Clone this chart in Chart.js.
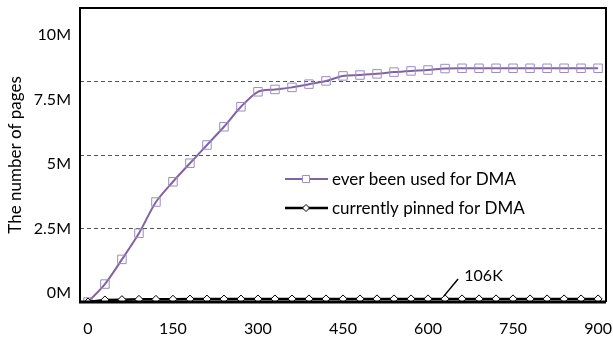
<!DOCTYPE html>
<html>
<head>
<meta charset="utf-8">
<script src="https://cdn.jsdelivr.net/npm/chart.js@4.4.0/dist/chart.umd.min.js"></script>
<style>
  html, body { margin: 0; padding: 0; background: #fff; }
  canvas { display: block; }
</style>
</head>
<body>
<canvas id="dmaChart" width="613" height="337"></canvas>
<script>
// seconds (x) sampled every 30
const xValues = [0, 30, 60, 90, 120, 150, 180, 210, 240, 270, 300, 330, 360, 390, 420, 450,
                 480, 510, 540, 570, 600, 630, 660, 690, 720, 750, 780, 810, 840, 870, 900];

// pages, in millions
const everUsed = [0, 0.61, 1.45, 2.34, 3.40, 4.09, 4.72, 5.34, 5.96, 6.64, 7.15, 7.23, 7.30, 7.41,
                  7.52, 7.69, 7.72, 7.76, 7.82, 7.86, 7.89, 7.94, 7.95, 7.95, 7.95, 7.95, 7.95,
                  7.95, 7.95, 7.95, 7.95];
const pinned = [0, 0.07, 0.08, 0.09, 0.09, 0.095, 0.1, 0.1, 0.1, 0.1, 0.104, 0.104, 0.104, 0.105,
                0.105, 0.105, 0.105, 0.106, 0.106, 0.106, 0.106, 0.106, 0.106, 0.106, 0.106, 0.106,
                0.106, 0.106, 0.106, 0.106, 0.106];

const seriesLabels = ["ever been used for DMA", "currently pinned for DMA"];
const xTicks = [0, 150, 300, 450, 600, 750, 900];
const yGridTicks = [2.5, 5, 7.5];
const yLabelTicks = [0, 2.5, 5, 7.5, 10];
const yLabelText = ["0M", "2.5M", "5M", "7.5M", "10M"];
const yTitle = "The number of pages";

// callout for the pinned series
const calloutText = "106K";
const calloutFrom = { x: 628, y: 0.2 };
const calloutTo = { x: 653, y: 0.78 };
const calloutAt = { x: 664, y: 0.9 };

const FONT = "Lato, 'Open Sans', sans-serif";
const PURPLE = "#8064A2";
const PURPLE_PT = "#9D8BC6";

function noPad(axis) {
    axis.paddingTop = 0;
    axis.paddingBottom = 0;
    axis.paddingLeft = 0;
    axis.paddingRight = 0;
}

const framePlugin = {
    id: 'plotFrame',
    afterDraw(chart) {
        const c = chart.ctx;
        const a = chart.chartArea;
        const sx = chart.scales.x, sy = chart.scales.y;
        c.save();
        c.setLineDash([]);
        // frame around the plot
        c.strokeStyle = "#000";
        c.lineWidth = 2;
        c.beginPath();
        c.moveTo(a.left, a.bottom);
        c.lineTo(a.left, a.top);
        c.lineTo(a.right, a.top);
        c.lineTo(a.right, a.bottom);
        c.stroke();
        c.lineWidth = 3;
        c.beginPath();
        c.moveTo(a.left - 1, a.bottom);
        c.lineTo(a.right, a.bottom);
        c.stroke();

        // legend inside the plot
        const items = [
            { y: 179, color: PURPLE, ptColor: PURPLE_PT, style: 'rect', r: 5, w: 2 },
            { y: 208, color: "#000", ptColor: "#000", style: 'rectRot', r: 3.5, w: 2.5 }
        ];
        items.forEach((it, i) => {
            c.strokeStyle = it.color;
            c.lineWidth = it.w;
            c.beginPath();
            c.moveTo(285, it.y);
            c.lineTo(328, it.y);
            c.stroke();
            c.fillStyle = "#fff";
            c.strokeStyle = it.ptColor;
            c.lineWidth = 1;
            Chart.helpers.drawPoint(c, { pointStyle: it.style, radius: it.r, borderWidth: 1 }, 306, it.y);
            c.fillStyle = "#000";
            c.font = "17px " + FONT;
            c.textAlign = "left";
            c.textBaseline = "middle";
            c.fillText(seriesLabels[i], 332, it.y + 1);
        });

        // 106K callout
        c.strokeStyle = "#000";
        c.lineWidth = 1.5;
        c.beginPath();
        c.moveTo(sx.getPixelForValue(calloutFrom.x), sy.getPixelForValue(calloutFrom.y));
        c.lineTo(sx.getPixelForValue(calloutTo.x), sy.getPixelForValue(calloutTo.y));
        c.stroke();
        c.fillStyle = "#000";
        c.font = "16px " + FONT;
        c.textAlign = "left";
        c.textBaseline = "middle";
        c.fillText(calloutText, sx.getPixelForValue(calloutAt.x), sy.getPixelForValue(calloutAt.y));
        c.restore();
    }
};

const ctx = document.getElementById('dmaChart').getContext('2d');
new Chart(ctx, {
    type: 'line',
    data: {
        datasets: [
            {
                label: seriesLabels[0],
                data: xValues.map((v, i) => ({ x: v, y: everUsed[i] })),
                borderColor: PURPLE,
                borderWidth: 2,
                tension: 0.3,
                pointStyle: 'rect',
                pointRadius: 6,
                pointBorderWidth: 1,
                pointBorderColor: PURPLE_PT,
                pointBackgroundColor: 'rgba(255,255,255,0)',
                order: 1
            },
            {
                label: seriesLabels[1],
                data: xValues.map((v, i) => ({ x: v, y: pinned[i] })),
                borderColor: "#000",
                borderWidth: 2.5,
                tension: 0,
                pointStyle: 'rectRot',
                pointRadius: 4,
                pointBorderWidth: 1,
                pointBorderColor: "#000",
                pointBackgroundColor: "#fff",
                order: 0
            }
        ]
    },
    options: {
        responsive: false,
        animation: false,
        layout: { padding: { top: 8, right: 7, left: 0, bottom: 0 } },
        plugins: {
            legend: { display: false },
            tooltip: { enabled: false }
        },
        scales: {
            x: {
                type: 'linear',
                min: -14,
                max: 914,
                afterBuildTicks: axis => { axis.ticks = xTicks.map(v => ({ value: v })); },
                afterFit: axis => { axis.height = 35; noPad(axis); },
                grid: { display: false, drawTicks: false },
                border: { display: false },
                ticks: { color: "#000", font: { size: 16, family: FONT }, padding: 17 }
            },
            y: {
                type: 'linear',
                position: 'left',
                min: 0,
                max: 10,
                afterBuildTicks: axis => { axis.ticks = yGridTicks.map(v => ({ value: v })); },
                afterFit: axis => { axis.width = 0; noPad(axis); },
                grid: { color: "#555", lineWidth: 1, drawTicks: false },
                border: { display: false, dash: [4, 3] },
                ticks: { display: false }
            },
            yl: {
                type: 'linear',
                position: 'left',
                min: -0.35,
                max: 11.05,
                afterBuildTicks: axis => { axis.ticks = yLabelTicks.map(v => ({ value: v })); },
                afterFit: axis => { axis.width = 80; noPad(axis); },
                grid: { display: false, drawTicks: false },
                border: { display: false },
                title: { display: true, text: yTitle, color: "#000", font: { size: 17, family: FONT }, padding: { top: 5 } },
                ticks: {
                    color: "#000",
                    font: { size: 16, family: FONT },
                    padding: 9,
                    callback: (v) => yLabelText[yLabelTicks.indexOf(v)]
                }
            }
        }
    },
    plugins: [framePlugin]
});
</script>
</body>
</html>
